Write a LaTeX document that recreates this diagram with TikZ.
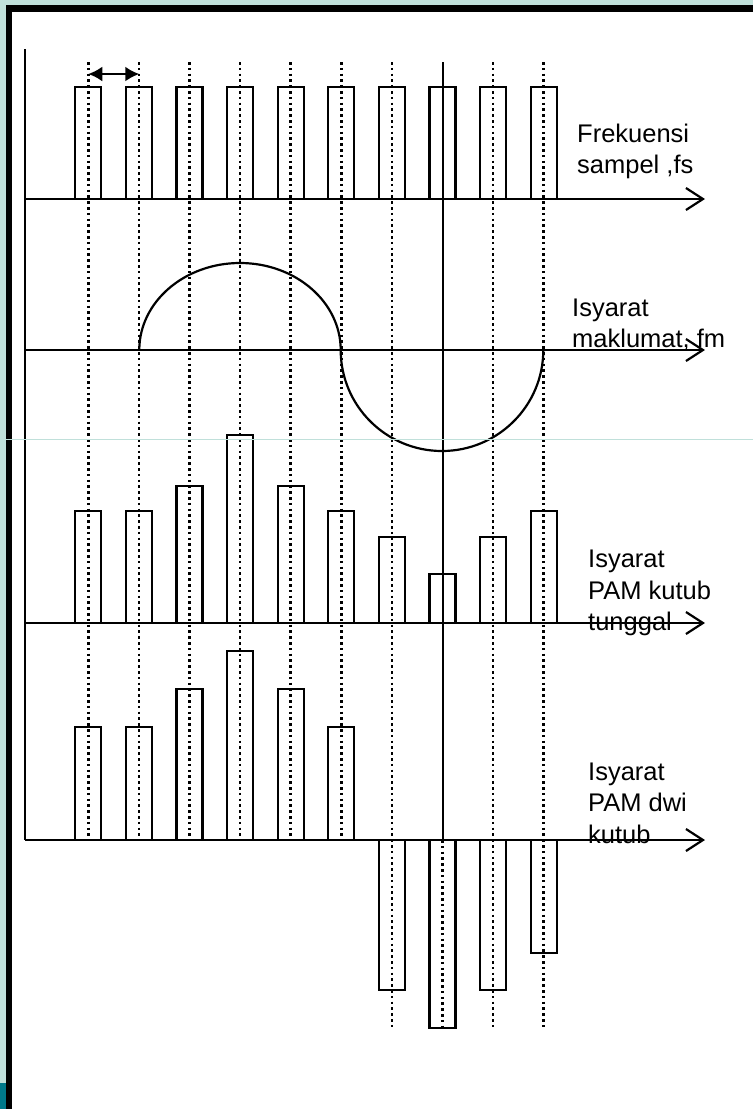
\documentclass[tikz,border=0pt]{standalone}
\usepackage{fontspec}
\setmainfont{Liberation Sans}
\usetikzlibrary{arrows.meta}
\definecolor{frameteal}{HTML}{C0E0DA}
\definecolor{darkteal}{HTML}{00798A}
\begin{document}
\begin{tikzpicture}[x=1pt,y=-1pt,
  axisline/.style={line width=2.2pt, -{Straight Barb[length=17pt,width=22pt]}},
  plainline/.style={line width=2.2pt},
  barbox/.style={draw, line width=2.2pt},
  dotline/.style={line width=2.6pt, dash pattern=on 2.6pt off 3.2pt},
  lbl/.style={font=\fontsize{25.5}{32}\selectfont, anchor=base west, inner sep=0pt}]
\useasboundingbox (0,0) rectangle (753,1109);
% frame
\fill[white] (0,0) rectangle (753,1109);
\fill[frameteal] (0,0) rectangle (753,5);
\fill[frameteal] (0,0) rectangle (6,1109);
\fill[darkteal] (0,1083) rectangle (6,1109);
\fill[black] (6,5) rectangle (753,11.7);
\fill[black] (6,5) rectangle (12.3,1109);
% dotted sample lines
\foreach \i in {0,...,5} {
  \draw[dotline] ({88.3+50.6*\i},62) -- ({88.3+50.6*\i},840);
}
\foreach \i in {6,8,9} {
  \draw[dotline] ({88.3+50.6*\i},62) -- ({88.3+50.6*\i},1028);
}
\coordinate (s7top) at (442.5,62);
\coordinate (s7mid) at (442.5,840);
\coordinate (s7bot) at (442.5,1028);
\draw[line width=2pt] (s7top) -- (s7mid);
\draw[dotline] (s7mid) -- (s7bot);
% sampling pulses
\foreach \i in {0,...,9} {
  \draw[barbox] ({88.3+50.6*\i-13},87) rectangle ({88.3+50.6*\i+13},199);
}
% PAM unipolar
\foreach \i/\t in {0/511,1/511,2/486,3/435,4/486,5/511,6/537,7/574,8/537,9/511} {
  \draw[barbox] ({88.3+50.6*\i-13},\t) rectangle ({88.3+50.6*\i+13},623);
}
% PAM bipolar
\foreach \i/\t in {0/727,1/727,2/689,3/651,4/689,5/727,6/990,7/1028,8/990,9/953} {
  \draw[barbox] ({88.3+50.6*\i-13},840) rectangle ({88.3+50.6*\i+13},\t);
}
% axes
\coordinate (yaxtop) at (25,49);
\coordinate (yaxbot) at (25,840);
\draw[plainline] (yaxtop) -- (yaxbot);
\coordinate (a1s) at (25,199);  \coordinate (a1e) at (705,199);
\coordinate (a2s) at (25,350);  \coordinate (a2e) at (705,350);
\coordinate (a3s) at (25,623);  \coordinate (a3e) at (705,623);
\coordinate (a4s) at (25,840);  \coordinate (a4e) at (705,840);
\draw[axisline] (a1s) -- (a1e);
\draw[axisline] (a2s) -- (a2e);
\draw[axisline] (a3s) -- (a3e);
\draw[axisline] (a4s) -- (a4e);
% period arrow
\coordinate (pl) at (88.3,74);
\coordinate (pr) at (139.3,74);
\draw[line width=2.2pt, {Latex[length=14pt,width=15pt]}-{Latex[length=14pt,width=15pt]}] (pl) -- (pr);
% message signal
\draw[plainline] (139.3,350) arc[start angle=180,end angle=0,x radius=100.7pt,y radius=87pt]
  arc[start angle=180,end angle=360,x radius=101.3pt,y radius=101pt];
% labels
\node[lbl] (fs1) at (577,142) {Frekuensi};
\node[lbl] (fs2) at (577,173) {sampel ,fs};
\node[lbl] (fm1) at (572,316) {Isyarat};
\node[lbl] (fm2) at (572,347) {maklumat, fm};
\node[lbl] (pu1) at (588,567) {Isyarat};
\node[lbl] (pu2) at (588,599) {PAM kutub};
\node[lbl] (pu3) at (588,630) {tunggal};
\node[lbl] (pd1) at (588,780) {Isyarat};
\node[lbl] (pd2) at (588,811.7) {PAM dwi};
\node[lbl] (pd3) at (588,843) {kutub};
% thin overlay line
\draw[frameteal, line width=1.2pt] (0,439.3) -- (753,439.3);
\end{tikzpicture}
\end{document}
